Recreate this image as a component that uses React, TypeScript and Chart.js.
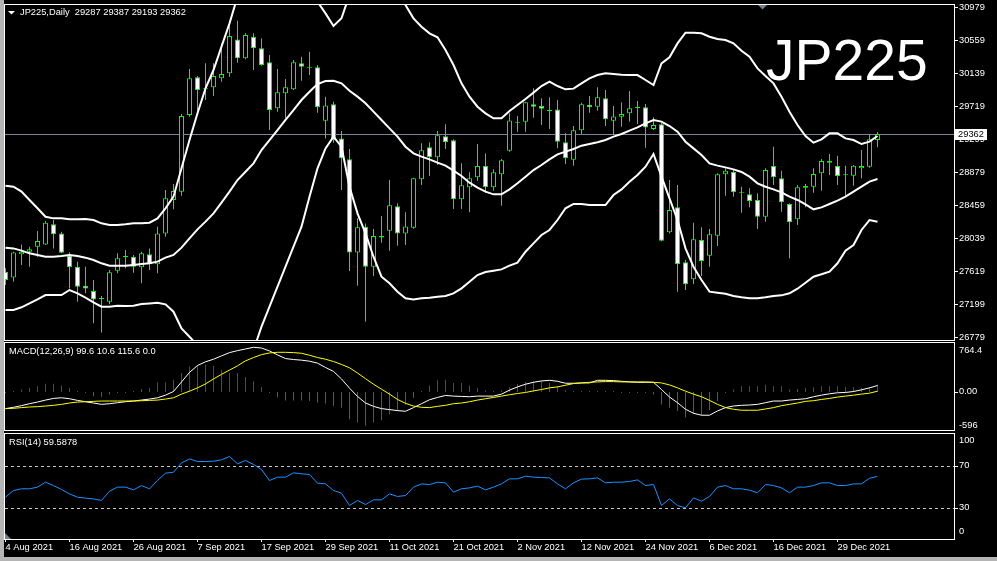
import React, { useEffect, useRef } from "react";
import { Chart, registerables } from "chart.js";

Chart.register(...registerables);

// ---------------- DATA ----------------
const symbol = "JP225";
const timeframe = "Daily";

const open = [
  27610, 27538, 27831, 27865, 27929, 27958, 28213, 28098, 27814, 27674,
  27432, 27364, 27262, 27229, 27623, 27793, 27801, 27666, 27831, 27704,
  28098, 28523, 28629, 29604, 30084, 29944, 29957, 30071, 30135, 30567,
  30326, 30601, 30453, 30275, 29689, 29880, 29931, 30262, 30215, 30211,
  29532, 29740, 29307, 29040, 27856, 28183, 27674, 28047, 28132, 28442,
  28098, 28170, 28786, 29193, 29066, 29333, 29282, 28531, 28684, 28811,
  28955, 28684, 28849, 29150, 29507, 29519, 29740, 29719, 29668, 29676,
  29257, 29036, 29409, 29736, 29710, 29817, 29532, 29583, 29626, 29693,
  29702, 29426, 29486, 28111, 28429, 27729, 27513, 28013, 27814, 28069,
  28849, 28883, 28624, 28595, 28523, 28311, 28955, 28798, 28472, 28277,
  28680, 28692, 28862, 28998, 28955, 28845, 28832, 28926, 28947, 29287,
];
const high = [
  27653, 27865, 27958, 27929, 28128, 28255, 28268, 28120, 27857, 27738,
  27674, 27504, 27301, 27632, 27844, 27886, 27823, 27865, 27907, 28183,
  28650, 28726, 29617, 30190, 30101, 30262, 30262, 30516, 30737, 30805,
  30644, 30644, 30580, 30368, 30190, 30063, 30304, 30347, 30410, 30241,
  29838, 29774, 29401, 29172, 28289, 28225, 28154, 28319, 28777, 28480,
  28366, 28807, 29244, 29257, 29401, 29486, 29295, 28989, 28875, 29235,
  29116, 28913, 29044, 29626, 29592, 29774, 29944, 29817, 29829, 29795,
  29371, 29464, 29761, 29846, 29957, 29923, 29719, 29766, 29910, 29783,
  29745, 29575, 29507, 28777, 28713, 27759, 28234, 28175, 28154, 28862,
  28926, 28904, 28692, 28671, 28608, 28926, 29201, 28896, 28480, 28713,
  28726, 28926, 29044, 29108, 29087, 28960, 28968, 29159, 29363, 29387,
];
const low = [
  27441, 27483, 27695, 27674, 27801, 27950, 27907, 27844, 27398, 27229,
  27335, 26953, 26838, 27195, 27589, 27653, 27598, 27462, 27632, 27589,
  28056, 28404, 28578, 29583, 29604, 29795, 29846, 30029, 30092, 30270,
  30313, 30177, 30232, 29414, 29647, 29562, 29923, 30041, 30113, 29634,
  29307, 29252, 28650, 27619, 27432, 26974, 27555, 27980, 27878, 27941,
  27950, 28158, 28713, 28828, 28968, 29172, 28408, 28408, 28366, 28769,
  28616, 28641, 28450, 29138, 29392, 29392, 29570, 29477, 29426, 29180,
  28981, 28960, 29363, 29634, 29660, 29464, 29350, 29456, 29519, 29490,
  29189, 29414, 27997, 28098, 27356, 27377, 27453, 27555, 27674, 27937,
  28578, 28565, 28361, 28429, 28154, 28247, 28713, 28374, 27780, 28204,
  28429, 28616, 28641, 28841, 28713, 28557, 28705, 28798, 28934, 29193,
];
const close = [
  27504, 27856, 27865, 27895, 28001, 28234, 28086, 27852, 27666, 27420,
  27398, 27258, 27266, 27602, 27780, 27810, 27674, 27844, 27704, 28098,
  28544, 28637, 29592, 30071, 29923, 29931, 30101, 30126, 30610, 30326,
  30623, 30453, 30241, 29668, 29893, 29957, 30275, 30220, 30207, 29702,
  29727, 29286, 29053, 27856, 28175, 27674, 28064, 28064, 28455, 28098,
  28187, 28798, 29155, 29066, 29346, 29257, 28531, 28709, 28798, 28955,
  28684, 28875, 29028, 29536, 29515, 29766, 29710, 29685, 29651, 29265,
  29053, 29409, 29740, 29702, 29829, 29549, 29587, 29617, 29689, 29702,
  29447, 29477, 28005, 28395, 27704, 27449, 28022, 27746, 28086, 28849,
  28896, 28620, 28616, 28510, 28311, 28904, 28811, 28493, 28238, 28684,
  28701, 28853, 29019, 29019, 28828, 28837, 28960, 28955, 29295, 29362,
];

const bbUpper = [
  28705, 28692, 28629, 28523, 28417, 28310, 28289, 28289, 28277, 28277,
  28281, 28268, 28226, 28204, 28204, 28213, 28226, 28226, 28234, 28289,
  28417, 28565, 28926, 29286, 29626, 29944, 30177, 30474, 30771, 31110,
  31280, 31365, 31408, 31407, 31406, 31408, 31407, 31407, 31238, 31047,
  30898, 30737, 30835, 31136, 31323, 31407, 31492, 31535, 31407, 31259,
  31004, 30835, 30729, 30644, 30593, 30432, 30241, 30007, 29838, 29710,
  29626, 29562, 29562, 29655, 29732, 29808, 29889, 29973, 30029, 29973,
  29931, 29940, 30007, 30071, 30113, 30135, 30126, 30118, 30113, 30113,
  30050, 29986, 30262, 30338, 30516, 30652, 30652, 30644, 30601, 30572,
  30559, 30516, 30423, 30347, 30198, 30101, 30007, 29838, 29647, 29477,
  29337, 29252, 29295, 29371, 29371, 29307, 29286, 29235, 29265, 29337,
];
const bbMiddle = [
  27916, 27907, 27878, 27844, 27823, 27801, 27801, 27810, 27823, 27810,
  27789, 27759, 27717, 27687, 27687, 27687, 27695, 27708, 27717, 27738,
  27789, 27823, 27916, 28035, 28149, 28247, 28353, 28489, 28629, 28777,
  28883, 28989, 29159, 29286, 29413, 29541, 29668, 29795, 29901, 29999,
  30037, 30041, 30007, 29914, 29838, 29753, 29647, 29541, 29435, 29329,
  29201, 29117, 29074, 29040, 28998, 28960, 28896, 28828, 28743, 28680,
  28629, 28595, 28595, 28658, 28735, 28820, 28904, 28968, 29040, 29104,
  29138, 29172, 29214, 29235, 29257, 29286, 29329, 29363, 29405, 29447,
  29498, 29541, 29520, 29464, 29392, 29265, 29180, 29095, 28989, 28960,
  28938, 28913, 28879, 28820, 28735, 28692, 28658, 28620, 28565, 28523,
  28467, 28404, 28429, 28472, 28514, 28565, 28629, 28692, 28756, 28790,
];
const bbLower = [
  27123, 27123, 27157, 27207, 27258, 27313, 27313, 27313, 27377, 27335,
  27280, 27220, 27165, 27165, 27178, 27173, 27178, 27199, 27207, 27216,
  27195, 27101, 26889, 26783, 26673, 26550, 26529, 26503, 26486, 26444,
  26486, 26613, 26910, 27165, 27420, 27674, 27929, 28183, 28565, 28926,
  29180, 29329, 29201, 28692, 28353, 28098, 27801, 27547, 27462, 27356,
  27271, 27258, 27271, 27280, 27292, 27301, 27335, 27398, 27483, 27568,
  27606, 27623, 27640, 27687, 27725, 27865, 27971, 28077, 28141, 28268,
  28417, 28472, 28472, 28459, 28459, 28459, 28586, 28658, 28756, 28841,
  28947, 29108, 28820, 28544, 28268, 27907, 27674, 27504, 27356, 27343,
  27330, 27301, 27284, 27271, 27271, 27284, 27301, 27309, 27335, 27394,
  27470, 27547, 27577, 27610, 27717, 27878, 27950, 28141, 28268, 28247,
];

const macdMain = [
  -262, -241, -215, -185, -159, -128, -102, -92, -107, -133,
  -154, -174, -195, -185, -169, -154, -143, -128, -112, -92,
  -51, 6, 156, 305, 413, 470, 511, 563, 614, 645,
  671, 697, 686, 640, 578, 521, 506, 496, 480, 449,
  382, 320, 202, 58, -71, -174, -226, -262, -277, -293,
  -303, -246, -185, -123, -87, -56, -66, -71, -76, -66,
  -66, -66, -35, 27, 78, 120, 150, 171, 181, 166,
  135, 135, 140, 140, 181, 181, 176, 166, 156, 150,
  150, 150, 37, -81, -169, -272, -334, -365, -365, -298,
  -246, -221, -210, -205, -195, -169, -143, -143, -128, -118,
  -107, -76, -51, -30, -14, -9, 6, 32, 63, 99.6,
];
const macdSignal = [
  -262, -257, -246, -236, -231, -221, -210, -195, -174, -159,
  -154, -148, -143, -143, -143, -143, -143, -138, -133, -128,
  -112, -92, -35, 11, 63, 125, 202, 274, 341, 408,
  485, 537, 583, 609, 619, 619, 614, 604, 573, 537,
  511, 475, 429, 377, 295, 207, 120, 42, -35, -118,
  -179, -221, -241, -246, -226, -210, -185, -174, -154, -128,
  -107, -87, -66, -45, -25, -9, 16, 37, 63, 78,
  104, 130, 140, 150, 156, 161, 161, 156, 156, 156,
  156, 150, 140, 109, 63, 11, -35, -76, -133, -195,
  -246, -272, -287, -287, -287, -267, -246, -215, -195, -174,
  -148, -138, -118, -102, -81, -66, -51, -35, -20, 10.6,
];
const macdHist = [
  -3, 3, 36, 62, 88, 129, 129, 98, 62, 10,
  -15, -67, -77, -41, -15, -5, 10, 46, 62, 149,
  149, 191, 294, 397, 407, 423, 407, 345, 294, 294,
  232, 165, 77, -5, -82, -134, -134, -134, -144, -170,
  -180, -221, -247, -427, -479, -530, -479, -443, -350, -299,
  -196, -93, 2, 98, 180, 191, 139, 139, 98, 62,
  21, 10, 21, 77, 124, 155, 165, 175, 139, 88,
  26, 1, 8, 8, 8, 8, 1, -1, -1, -2,
  -15, -41, -196, -247, -299, -402, -350, -366, -283, -144,
  -5, 36, 88, 88, 88, 113, 88, 88, 36, 46,
  62, 72, 88, 88, 88, 77, 77, 62, 72, 115.6,
];

const rsi = [
  39.8, 46.2, 47.8, 47.8, 49.4, 54.1, 50.9, 47.1, 43.0, 39.8,
  38.9, 38.2, 36.7, 45.5, 49.4, 49.4, 46.8, 50.9, 47.8, 55.7,
  62.7, 63.6, 72.5, 76.3, 73.8, 73.8, 74.1, 75.4, 78.6, 71.6,
  74.8, 71.0, 66.2, 55.7, 58.9, 58.9, 63.0, 62.1, 61.4, 53.2,
  52.5, 46.2, 43.6, 31.9, 36.7, 32.8, 37.3, 37.3, 43.0, 40.5,
  41.4, 49.4, 52.5, 51.9, 54.1, 53.5, 44.6, 47.8, 48.7, 50.3,
  46.8, 49.4, 52.5, 57.3, 57.3, 59.8, 58.9, 58.6, 58.2, 52.5,
  47.8, 53.5, 57.0, 57.3, 58.2, 53.5, 54.1, 54.1, 54.8, 56.3,
  50.9, 51.9, 31.9, 38.2, 31.9, 29.7, 39.2, 36.0, 40.5, 49.4,
  50.9, 47.8, 47.8, 46.5, 44.0, 51.9, 50.9, 48.7, 44.0, 49.4,
  49.4, 50.9, 53.5, 53.5, 50.9, 50.9, 52.5, 52.5, 57.9, 59.5878,
];

const dateTickBars = [0, 8, 16, 24, 32, 40, 48, 56, 64, 72, 80, 88, 96, 104];
const dateTickLabels = [
  "4 Aug 2021", "16 Aug 2021", "26 Aug 2021", "7 Sep 2021", "17 Sep 2021",
  "29 Sep 2021", "11 Oct 2021", "21 Oct 2021", "2 Nov 2021", "12 Nov 2021",
  "24 Nov 2021", "6 Dec 2021", "16 Dec 2021", "29 Dec 2021",
];
const priceTicks = [30979, 30559, 30139, 29719, 29299, 28879, 28459, 28039, 27619, 27199, 26779];
const macdTicks = [764.4, 0, -596];
const macdTickLabels = ["764.4", "0.00", "-596"];
const rsiTicks = [100, 70, 30, 0];
const rsiLevels = [70, 30];
const macdTitle = "MACD(12,26,9) 99.6 10.6 115.6 0.0";
const rsiTitle = "RSI(14) 59.5878";

// ---------------- LAYOUT / STYLE ----------------
const W = 997;
const H = 561;
const AXIS_W = 43;
const PLOT_LEFT = 5;
const BAR_STEP = 8;
const X_MIN = -0.5 / BAR_STEP;
const X_MAX = X_MIN + (W - AXIS_W - PLOT_LEFT) / BAR_STEP;
const PRICE_MIN = 26741;
const PRICE_MAX = 31004.5;
const FAMILY = '"Liberation Sans", Arial, sans-serif';
const SMALL = 9.3;
const SMALL_FONT = `${SMALL}px ${FAMILY}`;
const LIME = "#00ff00";
const HIST_UP = "rgb(255,0,0)";
const HIST_DOWN = "rgb(0,150,0)";

const last = close.length - 1;
const xy = (arr: number[]) => arr.map((v, i) => ({ x: i, y: v }));

function strokeFrame(ctx: any, a: any) {
  ctx.save();
  ctx.strokeStyle = "#ffffff";
  ctx.lineWidth = 1;
  ctx.setLineDash([]);
  ctx.strokeRect(a.left - 0.5, a.top - 0.5, a.right - a.left + 1, a.bottom - a.top + 1);
  ctx.restore();
}

function drawYLabels(ctx: any, a: any, scale: any, values: number[], labels: string[], padTop: number, padBottom: number) {
  ctx.save();
  ctx.font = SMALL_FONT;
  ctx.fillStyle = "#ffffff";
  ctx.textAlign = "left";
  ctx.textBaseline = "middle";
  values.forEach((v, k) => {
    const p = scale.getPixelForValue(v);
    const y = Math.min(Math.max(p, a.top + padTop), a.bottom - padBottom);
    if (y === p) ctx.fillRect(a.right + 1, Math.round(p), 3, 1);
    ctx.fillText(labels[k], a.right + 5, y);
  });
  ctx.restore();
}

function xScale(display: boolean) {
  return {
    type: "linear",
    min: X_MIN,
    max: X_MAX,
    offset: false,
    display,
    position: "bottom",
    afterBuildTicks: (s: any) => {
      s.ticks = dateTickBars.map((v) => ({ value: v }));
    },
    afterFit: (s: any) => {
      s.height = display ? H - 539 : 0;
    },
    ticks: {
      color: "#ffffff",
      font: { family: FAMILY, size: SMALL },
      align: "start",
      padding: 0,
      maxRotation: 0,
      autoSkip: false,
      callback: (_v: any, i: number) => dateTickLabels[i] ?? "",
    },
    grid: { display: true, offset: false, drawOnChartArea: false, drawTicks: true, tickLength: 3, color: "#ffffff" },
    border: { display: false },
  };
}

function yScale(min: number, max: number) {
  return {
    type: "linear",
    position: "right",
    min,
    max,
    afterFit: (s: any) => {
      s.width = AXIS_W;
    },
    ticks: { display: false },
    grid: { display: false },
    border: { display: false },
  };
}

function baseOptions(min: number, max: number, padTop: number, padBottom: number, showX: boolean) {
  return {
    responsive: false,
    maintainAspectRatio: false,
    animation: false,
    devicePixelRatio: 1,
    events: [],
    layout: { padding: { left: PLOT_LEFT, right: 0, top: padTop, bottom: padBottom } },
    plugins: { legend: { display: false }, tooltip: { enabled: false }, colors: { enabled: false } },
    scales: { x: xScale(showX), y: yScale(min, max) },
  };
}

function mainConfig() {
  const decorBefore = {
    id: "mainBefore",
    beforeDatasetsDraw(chart: any) {
      const { ctx, chartArea: a, scales } = chart;
      const py = Math.round(scales.y.getPixelForValue(close[last]));
      ctx.save();
      ctx.fillStyle = "#778899";
      ctx.fillRect(a.left, py, a.right - a.left, 1);
      ctx.restore();
    },
  };
  const decor = {
    id: "mainDecor",
    afterDraw(chart: any) {
      const { ctx, chartArea: a, scales } = chart;
      strokeFrame(ctx, a);
      drawYLabels(ctx, a, scales.y, priceTicks, priceTicks.map(String), -100, -100);
      const py = Math.round(scales.y.getPixelForValue(close[last]));
      ctx.save();
      ctx.fillStyle = "#ffffff";
      ctx.fillRect(a.right + 1, py - 5, 32, 11);
      ctx.fillStyle = "#000000";
      ctx.font = SMALL_FONT;
      ctx.textAlign = "center";
      ctx.textBaseline = "middle";
      ctx.fillText(String(close[last]), a.right + 17, py + 0.5);
      ctx.fillStyle = "#ffffff";
      ctx.beginPath();
      ctx.moveTo(8, 11);
      ctx.lineTo(15, 11);
      ctx.lineTo(11.5, 14.5);
      ctx.closePath();
      ctx.fill();
      ctx.textAlign = "left";
      ctx.fillText(
        `${symbol},${timeframe}  ${open[last]} ${high[last]} ${low[last]} ${close[last]}`,
        20,
        12.7
      );
      ctx.fillStyle = "#708090";
      ctx.beginPath();
      ctx.moveTo(758, 5);
      ctx.lineTo(767, 5);
      ctx.lineTo(762.5, 9.5);
      ctx.closePath();
      ctx.fill();
      ctx.fillStyle = "#ffffff";
      ctx.font = `57px ${FAMILY}`;
      ctx.textBaseline = "alphabetic";
      ctx.fillText(symbol, 766, 80);
      ctx.restore();
    },
  };
  const lineDs = (arr: number[]) => ({
    type: "line",
    data: xy(arr),
    borderColor: "#ffffff",
    borderWidth: 2,
    pointRadius: 0,
    tension: 0,
    order: 0,
    clip: 0,
  });
  return {
    type: "bar",
    data: {
      datasets: [
        lineDs(bbUpper),
        lineDs(bbMiddle),
        lineDs(bbLower),
        {
          type: "bar",
          data: close.map((c, i) => ({ x: i, y: [open[i], c] })),
          backgroundColor: close.map((c, i) => (c < open[i] ? "#ffffff" : "#000000")),
          borderColor: LIME,
          borderWidth: 1,
          borderSkipped: false,
          barThickness: 5,
          minBarLength: 1,
          inflateAmount: 0,
          grouped: false,
          order: 1,
          clip: 0,
        },
        {
          type: "bar",
          data: close.map((_c, i) => ({ x: i, y: [low[i], high[i]] })),
          backgroundColor: LIME,
          borderColor: LIME,
          borderWidth: 0,
          barThickness: 1,
          inflateAmount: 0,
          grouped: false,
          order: 2,
          clip: 0,
        },
      ],
    },
    options: baseOptions(PRICE_MIN, PRICE_MAX, 5, H - 340, false),
    plugins: [decorBefore, decor],
  };
}

function macdConfig() {
  const decor = {
    id: "macdDecor",
    afterDraw(chart: any) {
      const { ctx, chartArea: a, scales } = chart;
      strokeFrame(ctx, a);
      drawYLabels(ctx, a, scales.y, macdTicks, macdTickLabels, 7, 5);
      ctx.save();
      ctx.font = SMALL_FONT;
      ctx.fillStyle = "#ffffff";
      ctx.textAlign = "left";
      ctx.textBaseline = "middle";
      ctx.fillText(macdTitle, 9, 351.7);
      ctx.restore();
    },
  };
  const histColors = macdHist.map((v) => (v > 0 ? HIST_UP : HIST_DOWN));
  return {
    type: "bar",
    data: {
      datasets: [
        {
          type: "line",
          data: xy(macdSignal),
          borderColor: "#ffff00",
          borderWidth: 1,
          pointRadius: 0,
          order: 0,
          clip: 0,
        },
        {
          type: "line",
          data: xy(macdMain),
          borderColor: "#ffffff",
          borderWidth: 1,
          pointRadius: 0,
          order: 1,
          clip: 0,
        },
        {
          type: "bar",
          data: xy(macdHist),
          backgroundColor: histColors,
          borderColor: histColors,
          borderWidth: 0,
          barThickness: 1,
          minBarLength: 1,
          inflateAmount: 0,
          grouped: false,
          order: 2,
          clip: 0,
        },
      ],
    },
    options: baseOptions(macdTicks[2], macdTicks[0], 343, H - 430, false),
    plugins: [decor],
  };
}

function rsiConfig() {
  const levels = {
    id: "rsiLevels",
    beforeDatasetsDraw(chart: any) {
      const { ctx, chartArea: a, scales } = chart;
      ctx.save();
      ctx.strokeStyle = "#c8c8c8";
      ctx.lineWidth = 1;
      ctx.setLineDash([3, 3]);
      rsiLevels.forEach((lv) => {
        const y = Math.round(scales.y.getPixelForValue(lv)) + 0.5;
        ctx.beginPath();
        ctx.moveTo(a.left, y);
        ctx.lineTo(a.right, y);
        ctx.stroke();
      });
      ctx.restore();
    },
  };
  const decor = {
    id: "rsiDecor",
    afterDraw(chart: any) {
      const { ctx, chartArea: a, scales } = chart;
      strokeFrame(ctx, a);
      drawYLabels(ctx, a, scales.y, rsiTicks, rsiTicks.map(String), 6, 8);
      ctx.save();
      ctx.font = SMALL_FONT;
      ctx.fillStyle = "#ffffff";
      ctx.textAlign = "left";
      ctx.textBaseline = "middle";
      ctx.fillText(rsiTitle, 9, 442.7);
      ctx.fillStyle = "#708090";
      ctx.beginPath();
      ctx.moveTo(a.left, a.bottom - 6);
      ctx.lineTo(a.left, a.bottom);
      ctx.lineTo(a.left + 6, a.bottom);
      ctx.closePath();
      ctx.fill();
      ctx.restore();
    },
  };
  return {
    type: "line",
    data: {
      datasets: [
        {
          type: "line",
          data: xy(rsi),
          borderColor: "#1e90ff",
          borderWidth: 1,
          pointRadius: 0,
          clip: 0,
        },
      ],
    },
    options: baseOptions(rsiTicks[3], rsiTicks[0], 434, 0, true),
    plugins: [levels, decor],
  };
}

export default function App() {
  const mainRef = useRef<HTMLCanvasElement>(null);
  const macdRef = useRef<HTMLCanvasElement>(null);
  const rsiRef = useRef<HTMLCanvasElement>(null);

  useEffect(() => {
    Chart.defaults.font.family = FAMILY;
    const charts = [
      new Chart(mainRef.current as HTMLCanvasElement, mainConfig() as any),
      new Chart(macdRef.current as HTMLCanvasElement, macdConfig() as any),
      new Chart(rsiRef.current as HTMLCanvasElement, rsiConfig() as any),
    ];
    return () => charts.forEach((c) => c.destroy());
  }, []);

  const cs: React.CSSProperties = { position: "absolute", left: 0, top: 0, width: W, height: H };
  return (
    <div style={{ position: "fixed", left: 0, top: 0, width: W, height: H, background: "#000", overflow: "hidden" }}>
      <div style={{ position: "absolute", left: 0, top: 0, width: 4, height: H, background: "#b4b4b4" }} />
      <div style={{ position: "absolute", left: 0, top: 557, width: W, height: 4, background: "#b4b4b4" }} />
      <canvas ref={mainRef} width={W} height={H} style={cs} />
      <canvas ref={macdRef} width={W} height={H} style={cs} />
      <canvas ref={rsiRef} width={W} height={H} style={cs} />
    </div>
  );
}
